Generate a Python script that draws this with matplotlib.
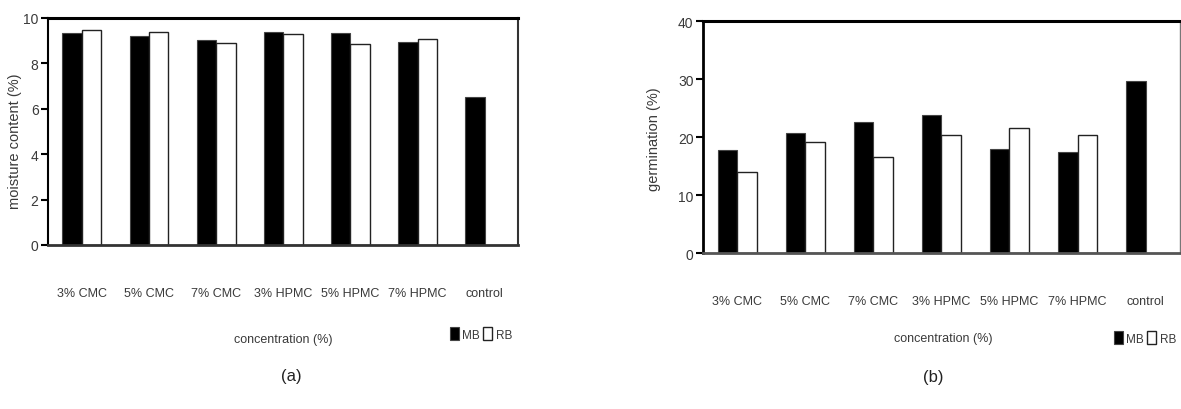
import numpy as np
import matplotlib
matplotlib.use("Agg")
import matplotlib.pyplot as plt

plt.rcParams['font.family'] = ['Liberation Sans', 'DejaVu Sans']

#categories and values
categories = ['3% CMC', '5% CMC', '7% CMC', '3% HPMC', '5% HPMC', '7% HPMC', 'control']
moisture_mb = [9.34, 9.21, 9.05, 9.38, 9.34, 8.94, 6.52]
moisture_rb = [9.47, 9.37, 8.88, 9.31, 8.87, 9.09, np.nan]
germination_mb = [17.7, 20.7, 22.7, 23.8, 17.9, 17.5, 29.7]
germination_rb = [13.9, 19.2, 16.6, 20.3, 21.6, 20.3, np.nan]

W, H = 1181, 410
text_color = '#3a3a3a'

fig = plt.figure(figsize=(W / 100, H / 100), dpi=100)

def fig_box(x0, y0, x1, y1):
    #pixel box (top-left origin) to figure fraction
    return [x0 / W, 1 - y1 / H, (x1 - x0) / W, (y1 - y0) / H]

def draw_panel(ax, mb, rb, ymax, ystep, ylabel, label_xy):
    x = np.arange(len(categories))
    width = 0.29
    bars_mb = ax.bar(x - width / 2, mb, width, color='black', edgecolor='#444444', linewidth=0.8)
    bars_rb = ax.bar(x + width / 2, rb, width, color='white', edgecolor='#222222', linewidth=1.0)
    ax.set_xlim(-0.5, len(categories) - 0.5)
    ax.set_ylim(0, ymax)
    ax.set_yticks(np.arange(0, ymax + 0.1, ystep))
    ax.set_xticks(x, categories)
    ax.tick_params(axis='x', length=0, pad=30, labelsize=9, labelcolor=text_color)
    ax.tick_params(axis='y', length=5, width=1.5, direction='out', pad=2,
                   labelsize=10, labelcolor=text_color)
    ax.set_ylabel(ylabel, fontsize=10.5, color=text_color)
    ax.yaxis.set_label_coords(*label_xy)
    return bars_mb, bars_rb

#(a) moisture content
ax1 = fig.add_axes(fig_box(48.3, 19, 518.3, 246))
h1 = draw_panel(ax1, moisture_mb, moisture_rb, 10, 2, 'moisture content (%)', (-0.055, 0.46))
ax1.spines['top'].set_linewidth(2.2)
ax1.spines['left'].set_linewidth(1.5)
ax1.spines['right'].set_linewidth(1.5)
ax1.spines['right'].set_color('#333333')
ax1.spines['bottom'].set_linewidth(2.0)
ax1.spines['bottom'].set_color('#333333')

#(b) germination
ax2 = fig.add_axes(fig_box(703.3, 22.3, 1179.6, 254))
h2 = draw_panel(ax2, germination_mb, germination_rb, 40, 10, 'germination (%)', (-0.088, 0.494))
ax2.spines['top'].set_linewidth(2.2)
ax2.spines['left'].set_linewidth(2.0)
ax2.spines['right'].set_linewidth(1.0)
ax2.spines['right'].set_color('#777777')
ax2.spines['bottom'].set_linewidth(2.0)
ax2.spines['bottom'].set_color('#555555')

fig.text(283 / W, 1 - 340 / H, 'concentration (%)', ha='center', va='center',
         fontsize=9, color=text_color)
fig.text(943 / W, 1 - 339 / H, 'concentration (%)', ha='center', va='center',
         fontsize=9, color=text_color)

for handles, cx, cy in [(h1, 481, 335), (h2, 1145, 339)]:
    fig.legend(handles, ['MB', 'RB'], loc='center', ncol=2, frameon=False,
               bbox_to_anchor=(cx / W, 1 - cy / H), fontsize=8.5,
               handlelength=0.75, handleheight=1.3, handletextpad=0.3,
               columnspacing=0.3, borderpad=0, labelcolor=text_color)

fig.text(291 / W, 1 - 377 / H, '(a)', ha='center', va='center', fontsize=12, color='#222222')
fig.text(933 / W, 1 - 378 / H, '(b)', ha='center', va='center', fontsize=12, color='#222222')

fig.savefig('out.png', dpi=100)
